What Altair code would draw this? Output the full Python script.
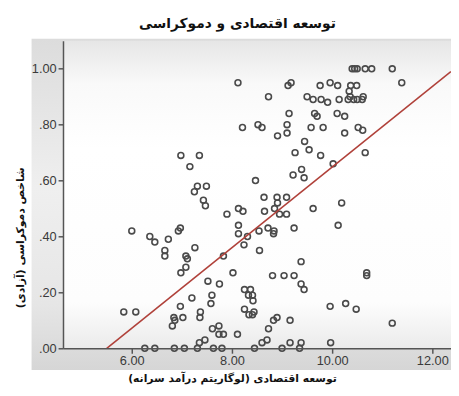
import altair as alt
import pandas as pd

chart_title = "توسعه اقتصادی و دموکراسی"
x_title = "توسعه اقتصادی (لوگاریتم درآمد سرانه)\u200f"
y_title = "شاخص دموکراسی (آزادی)\u200f"

econ = [
    10.40, 10.45, 10.50, 10.66, 10.79, 11.20, 11.39, 8.12, 9.12, 9.18,
    9.76, 9.96, 10.11, 10.37, 10.49, 8.73, 9.50, 9.62, 9.78, 9.91,
    10.14, 10.34, 10.36, 10.32, 10.43, 10.50, 10.60, 10.62, 9.14, 9.65,
    9.70, 10.10, 10.25, 8.21, 8.52, 8.60, 9.10, 9.58, 9.82, 10.52,
    10.61, 8.91, 9.10, 10.25, 9.45, 9.54, 9.26, 9.77, 10.66, 6.98,
    7.35, 7.16, 10.02, 9.22, 9.39, 9.44, 7.31, 7.49, 7.25, 8.47,
    7.43, 7.47, 8.64, 8.90, 8.91, 9.09, 8.13, 8.22, 7.90, 8.65,
    8.85, 8.95, 9.09, 9.62, 10.19, 8.13, 8.13, 8.31, 8.54, 8.72,
    8.84, 8.83, 9.24, 10.12, 6.00, 6.36, 6.46, 6.73, 6.93, 6.97,
    6.66, 6.66, 7.26, 7.08, 7.11, 7.83, 8.24, 8.55, 9.38, 7.08,
    6.98, 8.02, 8.81, 9.04, 9.24, 10.69, 10.69, 7.52, 7.75, 9.38,
    9.44, 8.25, 8.37, 8.33, 8.41, 8.42, 7.60, 7.20, 7.58, 6.97,
    8.25, 8.44, 8.34, 8.41, 9.96, 10.27, 10.48, 11.20, 5.84, 6.08,
    6.84, 6.86, 6.81, 7.02, 7.36, 7.37, 7.61, 7.74, 7.74, 7.83,
    8.11, 8.73, 8.83, 8.90, 9.16, 7.35, 7.46, 8.70, 8.60, 9.16,
    9.38, 9.97, 6.26, 6.46, 6.85, 7.05, 7.31, 7.63, 7.80, 8.45,
    9.00, 9.35,
]
democ = [
    1.00, 1.00, 1.00, 1.00, 1.00, 1.00, 0.95, 0.95, 0.94, 0.95,
    0.94, 0.95, 0.94, 0.94, 0.94, 0.90, 0.90, 0.89, 0.89, 0.88,
    0.89, 0.92, 0.90, 0.89, 0.89, 0.89, 0.89, 0.90, 0.84, 0.84,
    0.83, 0.84, 0.83, 0.79, 0.80, 0.79, 0.80, 0.79, 0.79, 0.79,
    0.78, 0.76, 0.77, 0.77, 0.74, 0.71, 0.70, 0.69, 0.70, 0.69,
    0.69, 0.65, 0.66, 0.62, 0.64, 0.61, 0.58, 0.58, 0.56, 0.60,
    0.53, 0.51, 0.54, 0.54, 0.52, 0.54, 0.50, 0.49, 0.48, 0.49,
    0.50, 0.48, 0.48, 0.50, 0.52, 0.44, 0.41, 0.40, 0.42, 0.43,
    0.42, 0.41, 0.43, 0.44, 0.42, 0.40, 0.38, 0.39, 0.42, 0.43,
    0.35, 0.33, 0.36, 0.33, 0.32, 0.33, 0.37, 0.35, 0.31, 0.29,
    0.27, 0.27, 0.26, 0.26, 0.26, 0.27, 0.26, 0.24, 0.23, 0.23,
    0.21, 0.21, 0.21, 0.19, 0.19, 0.17, 0.19, 0.18, 0.16, 0.15,
    0.14, 0.13, 0.12, 0.12, 0.15, 0.16, 0.14, 0.09, 0.13, 0.13,
    0.11, 0.10, 0.08, 0.11, 0.11, 0.13, 0.07, 0.08, 0.05, 0.05,
    0.05, 0.07, 0.10, 0.11, 0.10, 0.02, 0.03, 0.03, 0.02, 0.02,
    0.02, 0.02, 0.00, 0.00, 0.00, 0.00, 0.00, 0.00, 0.00, 0.00,
    0.00, 0.00,
]

fit_x = [5.50, 12.37]
fit_y = [0.00, 0.99]

x_ticks = [6, 8, 10, 12]
y_ticks = [0, 0.2, 0.4, 0.6, 0.8, 1.0]

W, H = 395, 313

pts = pd.DataFrame({"econ": econ, "democ": democ})
fit = pd.DataFrame({"econ": fit_x, "democ": fit_y})
one = pd.DataFrame({"k": [0]})

xscale = alt.Scale(domain=[4.627, 12.373], nice=False, zero=False)
yscale = alt.Scale(domain=[0, 1.1], nice=False, zero=False)

outer_fill = alt.Gradient(
    gradient="linear", x1=0, x2=0, y1=0, y2=1,
    stops=[
        alt.GradientStop(color="#dcdcdc", offset=0),
        alt.GradientStop(color="#efefef", offset=0.45),
        alt.GradientStop(color="#e6e6e6", offset=0.8),
        alt.GradientStop(color="#d6d6d6", offset=1),
    ],
)
inner_fill = alt.Gradient(
    gradient="linear", x1=0, x2=0, y1=0, y2=1,
    stops=[
        alt.GradientStop(color="#e6e6e6", offset=0),
        alt.GradientStop(color="#f9f9f9", offset=0.14),
        alt.GradientStop(color="#ffffff", offset=0.35),
        alt.GradientStop(color="#fdfdfd", offset=0.85),
        alt.GradientStop(color="#ebebeb", offset=1),
    ],
)

outer = alt.Chart(one).mark_rect(fill=outer_fill).encode(
    x=alt.value(-32), x2=alt.value(W + 10), y=alt.value(-2), y2=alt.value(H + 22)
)
inner = alt.Chart(one).mark_rect(fill=inner_fill).encode(
    x=alt.value(0), x2=alt.value(W), y=alt.value(0), y2=alt.value(H)
)

axis_style = dict(
    domainColor="#555555", domainWidth=1.5, tickColor="#555555", tickWidth=1.5,
    tickSize=5, grid=False, zindex=1,
    labelColor="#3a3a3a", labelFont="Liberation Sans", labelFontSize=13,
    titleFont="DejaVu Sans", titleFontSize=11, titleFontWeight="bold",
    titleColor="#111111", titleBaseline="middle", titleAlign="center",
    labelPadding=2,
)

points = alt.Chart(pts).mark_point(
    shape="circle", filled=False, size=36, strokeWidth=1.6, color="#4a4a4a", opacity=1
).encode(
    x=alt.X("econ:Q", scale=xscale,
            axis=alt.Axis(values=x_ticks, format=".2f", title=x_title,
                          titleX=172, titleY=31, **axis_style)),
    y=alt.Y("democ:Q", scale=yscale,
            axis=alt.Axis(values=y_ticks, title=y_title,
                          labelExpr="replace(format(datum.value, '.2f'), '0.', '.')",
                          titleX=-43, titleY=200, **axis_style)),
)

line = alt.Chart(fit).mark_line(color="#b0413a", strokeWidth=1.6, clip=True).encode(
    x=alt.X("econ:Q", scale=xscale),
    y=alt.Y("democ:Q", scale=yscale),
)

chart = alt.layer(outer, inner, points, line).properties(
    width=W,
    height=H,
    autosize=alt.AutoSizeParams(type="none"),
    padding={"left": 56, "top": 30, "right": 0, "bottom": 37},
    title=alt.TitleParams(
        text=chart_title, font="DejaVu Sans", fontSize=14, fontWeight="bold",
        color="#111111", anchor="middle", frame="group", dx=-20, offset=8,
    ),
).configure_view(stroke="transparent").configure(background="white")

chart.save("out.html", embed_options={"renderer": "svg", "actions": False})
